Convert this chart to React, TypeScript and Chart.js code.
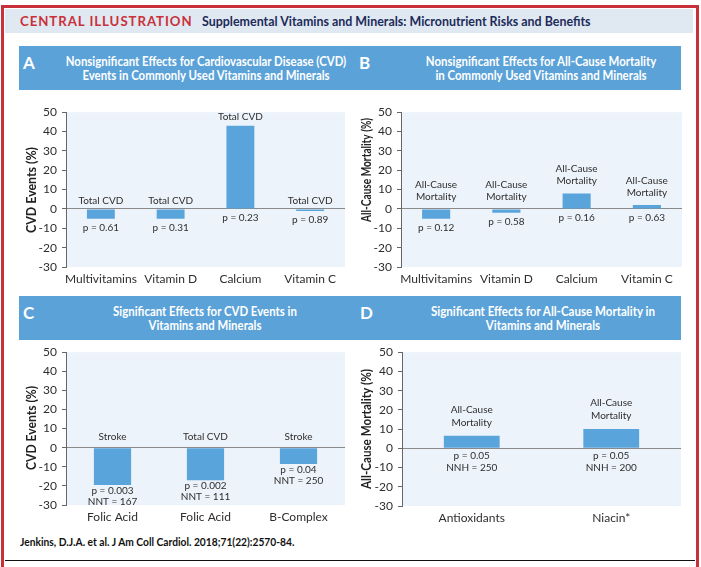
import React, { useEffect, useRef } from "react";
import { Chart, registerables } from "chart.js";

Chart.register(...registerables);

// ---------- data ----------
const catsA = ["Multivitamins", "Vitamin D", "Calcium", "Vitamin C"];
const valsA = [-5, -5, 43, -1];
const topA = [["Total CVD"], ["Total CVD"], ["Total CVD"], ["Total CVD"]];
const botA = [["p = 0.61"], ["p = 0.31"], ["p = 0.23"], ["p = 0.89"]];

const catsB = ["Multivitamins", "Vitamin D", "Calcium", "Vitamin C"];
const valsB = [-5, -2, 8, 2];
const topB = [
  ["All-Cause", "Mortality"],
  ["All-Cause", "Mortality"],
  ["All-Cause", "Mortality"],
  ["All-Cause", "Mortality"],
];
const botB = [["p = 0.12"], ["p = 0.58"], ["p = 0.16"], ["p = 0.63"]];

const catsC = ["Folic Acid", "Folic Acid", "B-Complex"];
const valsC = [-19.5, -17, -8.5];
const topC = [["Stroke"], ["Total CVD"], ["Stroke"]];
const botC = [
  ["p = 0.003", "NNT = 167"],
  ["p = 0.002", "NNT = 111"],
  ["p = 0.04", "NNT = 250"],
];

const catsD = ["Antioxidants", "Niacin*"];
const valsD = [6.5, 10];
const topD = [
  ["All-Cause", "Mortality"],
  ["All-Cause", "Mortality"],
];
const botD = [
  ["p = 0.05", "NNH = 250"],
  ["p = 0.05", "NNH = 200"],
];

const yMin = -30;
const yMax = 50;
const yStep = 10;

const yTitleCVD = "CVD Events (%)";
const yTitleMort = "All-Cause Mortality (%)";

const headA = ["Nonsignificant Effects for Cardiovascular Disease (CVD)", "Events in Commonly Used Vitamins and Minerals"];
const headB = ["Nonsignificant Effects for All-Cause Mortality", "in Commonly Used Vitamins and Minerals"];
const headC = ["Significant Effects for CVD Events in", "Vitamins and Minerals"];
const headD = ["Significant Effects for All-Cause Mortality in", "Vitamins and Minerals"];
const mainTitle = "CENTRAL ILLUSTRATION";
const subTitle = "Supplemental Vitamins and Minerals: Micronutrient Risks and Benefits";
const citation = "Jenkins, D.J.A. et al. J Am Coll Cardiol. 2018;71(22):2570-84.";

// ---------- styles ----------
const BAR = "#5aa4dc";
const PLOT_BG = "#edf3fa";
const HEAD_BLUE = "#5ba2d8";
const RED = "#c8313a";
const NAVY = "#1c2b5a";
const TXT = "#2e2e2e";
const SANS = "Lato, 'Noto Sans', sans-serif";

let measureCtx: CanvasRenderingContext2D | null = null;
function textW(text: string, font: string): number {
  if (!measureCtx) measureCtx = document.createElement("canvas").getContext("2d");
  if (!measureCtx) return text.length * 6;
  measureCtx.font = font;
  return measureCtx.measureText(text).width;
}

type PanelProps = {
  left: number;
  top: number;
  width: number;
  height: number;
  cats: string[];
  vals: number[];
  topLabels: string[][];
  botLabels: string[][];
  yTitle: string;
  titleX: number;
  titleCy: number;
  titleLen: number;
  pad: { top: number; right: number; bottom: number; left: number };
  yWidth: number;
  xHeight: number;
  topGap: number;
  botGap: number;
  lineH: number;
};

function Panel(p: PanelProps) {
  const ref = useRef<HTMLCanvasElement>(null);
  useEffect(() => {
    const bgPlugin = {
      id: "plotBg",
      beforeDraw(chart: any) {
        const { ctx, chartArea } = chart;
        ctx.save();
        ctx.fillStyle = PLOT_BG;
        ctx.fillRect(chartArea.left + 1, chartArea.top, chartArea.right - chartArea.left - 1, chartArea.bottom - chartArea.top);
        ctx.restore();
      },
    };
    const labelPlugin = {
      id: "barLabels",
      beforeDatasetsDraw(chart: any) {
        const { ctx } = chart;
        const meta = chart.getDatasetMeta(0);
        ctx.save();
        ctx.font = `10px ${SANS}`;
        ctx.fillStyle = TXT;
        ctx.textAlign = "center";
        ctx.textBaseline = "middle";
        meta.data.forEach((bar: any, i: number) => {
          const { x, y, base } = bar.getProps(["x", "y", "base"], true);
          const t = Math.min(y, base);
          const b = Math.max(y, base);
          const tl = p.topLabels[i] || [];
          tl.forEach((line, j) => {
            ctx.fillText(line, x, t - p.topGap - (tl.length - 1 - j) * p.lineH);
          });
          const bl = p.botLabels[i] || [];
          bl.forEach((line, j) => {
            ctx.fillText(line, x, b + p.botGap + j * p.lineH);
          });
        });
        ctx.restore();
      },
    };
    const titlePlugin = {
      id: "yTitleNarrow",
      afterDraw(chart: any) {
        const { ctx } = chart;
        ctx.save();
        ctx.font = `bold 13px ${SANS}`;
        const w = ctx.measureText(p.yTitle).width || 1;
        ctx.translate(p.titleX, p.titleCy);
        ctx.rotate(-Math.PI / 2);
        ctx.scale(p.titleLen / w, 1);
        ctx.fillStyle = "#222222";
        ctx.textAlign = "center";
        ctx.textBaseline = "middle";
        ctx.fillText(p.yTitle, 0, 0);
        ctx.restore();
      },
    };
    const chart = new Chart(ref.current as HTMLCanvasElement, {
      type: "bar",
      data: {
        labels: p.cats,
        datasets: [
          {
            data: p.vals,
            backgroundColor: BAR,
            borderWidth: 0,
            barPercentage: 0.4,
            categoryPercentage: 1,
          },
        ],
      },
      options: {
        responsive: false,
        animation: false,
        devicePixelRatio: 1,
        layout: { padding: p.pad, autoPadding: false } as any,
        plugins: {
          legend: { display: false },
          tooltip: { enabled: false },
        },
        scales: {
          x: {
            grid: { display: false, drawTicks: false },
            border: { display: false },
            ticks: {
              font: { family: SANS, size: 12 },
              color: TXT,
              padding: 5,
              maxRotation: 0,
              autoSkip: false,
            },
            afterFit: (s: any) => {
              s.height = p.xHeight;
            },
          },
          y: {
            min: yMin,
            max: yMax,
            ticks: {
              stepSize: yStep,
              font: { family: SANS, size: 12 },
              color: TXT,
              padding: 5,
            },
            grid: {
              drawOnChartArea: true,
              drawTicks: true,
              tickLength: 4,
              tickColor: "#666666",
              color: (ctx: any) => (ctx.tick && ctx.tick.value === 0 ? "#8a8a8a" : "rgba(0,0,0,0)"),
              lineWidth: 1,
            },
            border: { display: true, color: "#666666", width: 1 },
            title: { display: false },
            afterFit: (s: any) => {
              s.width = p.yWidth;
            },
          },
        },
      },
      plugins: [bgPlugin, labelPlugin, titlePlugin],
    });
    return () => chart.destroy();
  }, []);
  return (
    <canvas
      ref={ref}
      width={p.width}
      height={p.height}
      style={{ position: "absolute", left: p.left, top: p.top, width: p.width, height: p.height }}
    />
  );
}

function HeadBlock({ cx, top, lines, target }: { cx: number; top: number; lines: string[]; target: number }) {
  const font = `bold 13px ${SANS}`;
  const s = target / (textW(lines[0], font) || target);
  return (
    <div
      style={{
        position: "absolute",
        left: cx - 250,
        width: 500,
        top,
        textAlign: "center",
        color: "#ffffff",
        fontFamily: SANS,
        fontWeight: "bold",
        fontSize: 13,
        lineHeight: "14px",
        whiteSpace: "nowrap",
        transform: `scaleX(${s})`,
        transformOrigin: "50% 50%",
      }}
    >
      {lines[0]}
      <br />
      {lines[1]}
    </div>
  );
}

function FitLeft({
  left,
  top,
  text,
  size,
  target,
  color,
  spacing,
}: {
  left: number;
  top: number;
  text: string;
  size: number;
  target: number;
  color: string;
  spacing?: number;
}) {
  const font = `bold ${size}px ${SANS}`;
  const extra = (spacing || 0) * text.length;
  const s = target / ((textW(text, font) + extra) || target);
  return (
    <div
      style={{
        position: "absolute",
        left,
        top,
        fontFamily: SANS,
        fontWeight: "bold",
        fontSize: size,
        lineHeight: `${size + 5}px`,
        letterSpacing: spacing || 0,
        color,
        whiteSpace: "nowrap",
        transform: `scaleX(${s})`,
        transformOrigin: "0 50%",
      }}
    >
      {text}
    </div>
  );
}

const headLetter: React.CSSProperties = {
  position: "absolute",
  color: "#ffffff",
  fontFamily: SANS,
  fontWeight: "bold",
  fontSize: 17,
  lineHeight: "17px",
};

export default function App() {
  return (
    <div
      style={{
        position: "absolute",
        left: 0,
        top: 0,
        width: 701,
        height: 567,
        overflow: "hidden",
        background: "#ffffff",
      }}
    >
      {/* outer red frame */}
      <div
        style={{
          position: "absolute",
          left: 1,
          top: 5,
          width: 698,
          height: 700,
          border: `3px solid ${RED}`,
          borderBottom: "none",
          boxSizing: "border-box",
        }}
      />
      {/* title band */}
      <div style={{ position: "absolute", left: 5, top: 9, width: 688, height: 24, background: "#e0e8f1" }} />
      <FitLeft left={20} top={11} text={mainTitle} size={14} target={173} color={RED} spacing={1} />
      <FitLeft left={202} top={11} text={subTitle} size={14} target={389} color={NAVY} />

      {/* A/B header */}
      <div style={{ position: "absolute", left: 19, top: 46, width: 662, height: 44, background: HEAD_BLUE }} />
      <div style={{ ...headLetter, left: 23, top: 54 }}>A</div>
      <div style={{ ...headLetter, left: 359, top: 54 }}>B</div>
      <HeadBlock cx={205.5} top={54} lines={headA} target={281} />
      <HeadBlock cx={540.5} top={54} lines={headB} target={231} />

      {/* C/D header */}
      <div style={{ position: "absolute", left: 19, top: 296, width: 662, height: 44, background: HEAD_BLUE }} />
      <div style={{ ...headLetter, left: 23, top: 304 }}>C</div>
      <div style={{ ...headLetter, left: 360, top: 304 }}>D</div>
      <HeadBlock cx={205} top={304} lines={headC} target={184} />
      <HeadBlock cx={542.5} top={304} lines={headD} target={225} />

      <Panel
        left={18}
        top={100}
        width={332}
        height={190}
        cats={catsA}
        vals={valsA}
        topLabels={topA}
        botLabels={botA}
        yTitle={yTitleCVD}
        titleX={14}
        titleCy={90}
        titleLen={86}
        pad={{ top: 11, right: 5, bottom: 0, left: 0 }}
        yWidth={48}
        xHeight={23}
        topGap={8.5}
        botGap={9}
        lineH={12}
      />
      <Panel
        left={353}
        top={100}
        width={332}
        height={190}
        cats={catsB}
        vals={valsB}
        topLabels={topB}
        botLabels={botB}
        yTitle={yTitleMort}
        titleX={14}
        titleCy={70}
        titleLen={104}
        pad={{ top: 11, right: 3, bottom: 0, left: 0 }}
        yWidth={48}
        xHeight={23}
        topGap={12.5}
        botGap={9}
        lineH={11.7}
      />
      <Panel
        left={18}
        top={340}
        width={332}
        height={190}
        cats={catsC}
        vals={valsC}
        topLabels={topC}
        botLabels={botC}
        yTitle={yTitleCVD}
        titleX={14}
        titleCy={88}
        titleLen={84}
        pad={{ top: 9, right: 5, bottom: 0, left: 0 }}
        yWidth={48}
        xHeight={25}
        topGap={11}
        botGap={6}
        lineH={10.5}
      />
      <Panel
        left={353}
        top={340}
        width={332}
        height={190}
        cats={catsD}
        vals={valsD}
        topLabels={topD}
        botLabels={botD}
        yTitle={yTitleMort}
        titleX={14}
        titleCy={89}
        titleLen={120}
        pad={{ top: 10, right: 4, bottom: 0, left: 0 }}
        yWidth={49}
        xHeight={24}
        topGap={13.5}
        botGap={7.7}
        lineH={12.5}
      />

      {/* citation */}
      <FitLeft left={20} top={534} text={citation} size={11} target={275} color="#111111" />
      {/* bottom rule */}
      <div style={{ position: "absolute", left: 5, top: 560, width: 690, height: 1, background: "#111111" }} />
    </div>
  );
}
